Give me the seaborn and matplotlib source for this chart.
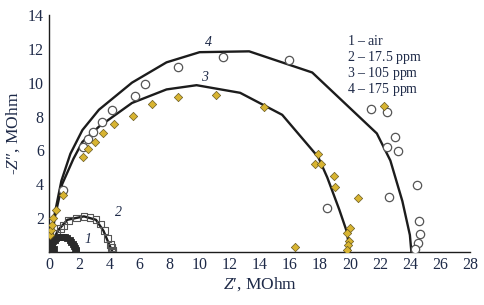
import matplotlib
matplotlib.use("Agg")
import matplotlib.pyplot as plt
import seaborn as sns
import pandas as pd

# ---- data (MOhm) ----
s1_x = [0.02, 0.05, 0.08, 0.12, 0.18, 0.25, 0.35, 0.45, 0.6, 0.75, 0.9, 1.05, 1.2, 1.35, 1.45, 1.55, 1.62, 1.7, 1.75, 1.8, 0.03, 0.1, 0.3]
s1_y = [0.05, 0.15, 0.3, 0.42, 0.52, 0.62, 0.72, 0.8, 0.86, 0.9, 0.9, 0.86, 0.8, 0.7, 0.6, 0.48, 0.36, 0.24, 0.14, 0.05, 0.4, 0.7, 0.2]
s2_x = [0.05, 0.15, 0.3, 0.5, 0.75, 0.95, 1.3, 1.8, 2.3, 2.7, 3.1, 3.4, 3.65, 3.85, 4.05, 4.15, 4.2, 4.2]
s2_y = [0.1, 0.4, 0.8, 1.1, 1.4, 1.55, 1.85, 2.0, 2.1, 2.05, 1.9, 1.65, 1.25, 0.8, 0.45, 0.25, 0.1, 0.0]
s3_x = [0.07, 0.13, 0.2, 0.27, 0.47, 0.93, 2.27, 2.6, 3.07, 3.6, 4.27, 5.6, 6.8, 8.57, 11.1, 14.3,
        17.9, 17.7, 18.1, 18.97, 19.03, 20.57, 22.3, 20.0, 19.83, 19.97, 19.9, 19.83, 16.37]
s3_y = [1.0, 1.3, 1.6, 2.0, 2.49, 3.37, 5.62, 6.1, 6.5, 7.04, 7.57, 8.05, 8.76, 9.17, 9.3, 8.58,
        5.8, 5.2, 5.2, 4.5, 3.85, 3.2, 8.64, 1.42, 1.12, 0.65, 0.41, 0.12, 0.3]
s4_x = [0.9, 2.23, 2.57, 2.9, 3.5, 4.2, 5.7, 6.37, 8.57, 11.57, 15.97, 21.4, 22.47, 23.0, 22.47,
        23.2, 24.47, 22.6, 18.47, 24.6, 24.67, 24.53, 24.33]
s4_y = [3.67, 6.2, 6.7, 7.1, 7.7, 8.4, 9.2, 9.9, 10.9, 11.5, 11.36, 8.46, 8.28, 6.8, 6.2,
        5.98, 3.96, 3.25, 2.6, 1.83, 1.07, 0.53, 0.18]

# fitted curves
f1_x = [0.0, 0.1, 0.25, 0.6, 0.9, 1.2, 1.5, 1.75, 1.9]
f1_y = [0.0, 0.45, 0.7, 0.88, 0.92, 0.85, 0.6, 0.3, 0.0]
f2_x = [0.1, 0.3, 0.6, 1.2, 2.3, 3.1, 3.6, 4.0, 4.2]
f2_y = [0.0, 0.8, 1.3, 1.9, 2.1, 1.9, 1.25, 0.4, 0.0]
f3_x = [0.05, 0.35, 0.85, 1.6, 2.2, 3.3, 5.5, 7.8, 9.8, 12.7, 15.5, 17.9, 18.5, 19.3, 19.8, 20.0]
f3_y = [0.0, 2.0, 4.0, 5.5, 6.5, 7.4, 8.8, 9.6, 9.85, 9.4, 8.1, 5.6, 4.4, 2.5, 1.2, 0.0]
f4_x = [0.05, 0.3, 0.8, 1.4, 2.2, 3.3, 5.5, 7.8, 10.0, 13.3, 17.5, 21.8, 22.7, 23.5, 24.0, 24.1]
f4_y = [0.0, 2.0, 4.2, 5.8, 7.2, 8.4, 10.0, 11.2, 11.8, 11.85, 10.6, 7.0, 5.4, 3.0, 1.0, 0.0]

legend_nums = ["1", "2", "3", "4"]
legend_labels = ["air", "17.5 ppm", "105 ppm", "175 ppm"]
x_ticks = list(range(0, 29, 2))
y_ticks = list(range(2, 15, 2))

sns.set_theme(style="white")
plt.rcParams["font.family"] = ["Liberation Serif", "DejaVu Serif"]
plt.rcParams["mathtext.fontset"] = "custom"
plt.rcParams["mathtext.rm"] = "Liberation Serif"
plt.rcParams["mathtext.it"] = "Liberation Serif:italic"

txtc = "#1e2a48"
linec = "#1c1c1c"

fig = plt.figure(figsize=(4.84, 3.05), dpi=100)
ax = fig.add_axes([0.102, 0.174, 0.869, 0.777])

for fx, fy in [(f1_x, f1_y), (f2_x, f2_y), (f3_x, f3_y), (f4_x, f4_y)]:
    sns.lineplot(x=fx, y=fy, sort=False, estimator=None, color=linec, lw=1.7, ax=ax)

sns.scatterplot(x=s4_x, y=s4_y, marker="o", s=36, facecolor="white",
                edgecolor="#555555", linewidth=0.9, ax=ax, zorder=3)
sns.scatterplot(x=s3_x, y=s3_y, marker="D", s=18, color="#d8b431",
                edgecolor="#6a5a20", linewidth=0.5, ax=ax, zorder=4)
sns.scatterplot(x=s2_x, y=s2_y, marker="s", s=24, facecolor="none",
                edgecolor="#555555", linewidth=0.8, ax=ax, zorder=3)
sns.scatterplot(x=s1_x, y=s1_y, marker="s", s=24, color="#2a2a2a",
                edgecolor="#2a2a2a", linewidth=0.6, ax=ax, zorder=3)

ax.set_xlim(0, 28)
ax.set_ylim(0, 14)
ax.set_xticks(x_ticks)
ax.set_yticks(y_ticks)
ax.tick_params(direction="in", length=4, width=0.9, labelsize=11.5,
               colors=linec, labelcolor=txtc, pad=4)
for side in ["top", "right"]:
    ax.spines[side].set_visible(False)
for side in ["left", "bottom"]:
    ax.spines[side].set_color(linec)
    ax.spines[side].set_linewidth(1.0)

ax.set_xlabel(r"$\mathit{Z}$′, MOhm", fontsize=12.5, color=txtc, labelpad=1)
ax.set_ylabel(r"-$\mathit{Z}$″, MOhm", fontsize=12.5, color=txtc, labelpad=4)

# curve labels
ax.text(10.6, 12.4, "4", fontsize=10, style="italic", color=txtc, ha="center", va="center")
ax.text(10.3, 10.3, "3", fontsize=10, style="italic", color=txtc, ha="center", va="center")
ax.text(4.6, 2.3, "2", fontsize=10, style="italic", color=txtc, ha="center", va="center")
ax.text(2.6, 0.75, "1", fontsize=10, style="italic", color=txtc, ha="center", va="center")

for i, (n, lab) in enumerate(zip(legend_nums, legend_labels)):
    ax.text(19.8, 12.45 - i * 0.95, r"$\mathit{" + n + r"}$ – " + lab,
            fontsize=10, color=txtc, ha="left", va="center")

fig.savefig("out.png", dpi=100)
